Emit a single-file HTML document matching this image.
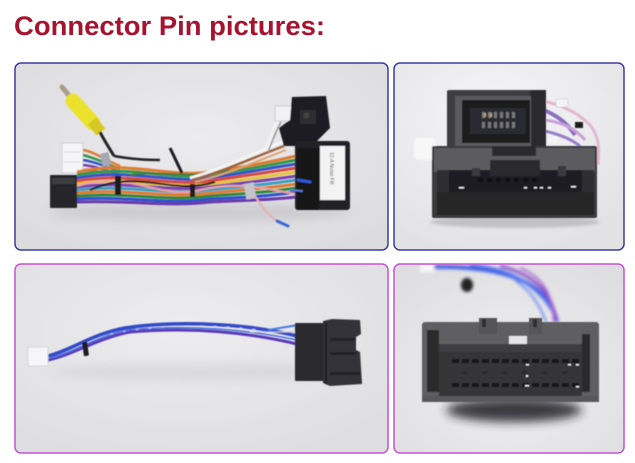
<!DOCTYPE html>
<html>
<head>
<meta charset="utf-8">
<style>
html,body{margin:0;padding:0;background:#fff;}
body{width:635px;height:463px;overflow:hidden;}
svg{display:block;}
</style>
</head>
<body>
<svg width="635" height="463" viewBox="0 0 635 463" xmlns="http://www.w3.org/2000/svg">
<defs>
  <clipPath id="cTL"><rect x="15" y="63" width="373" height="187" rx="6"/></clipPath>
  <clipPath id="cTR"><rect x="394" y="63" width="230" height="187" rx="6"/></clipPath>
  <clipPath id="cBL"><rect x="15" y="264" width="373" height="189" rx="6"/></clipPath>
  <clipPath id="cBR"><rect x="394" y="264" width="230" height="189" rx="6"/></clipPath>
  <radialGradient id="gTL" cx="50%" cy="40%" r="70%">
    <stop offset="0" stop-color="#ececee"/><stop offset="1" stop-color="#dcdcdf"/>
  </radialGradient>
  <radialGradient id="gTR" cx="45%" cy="30%" r="75%">
    <stop offset="0" stop-color="#f6f6f8"/><stop offset="1" stop-color="#e2e2e5"/>
  </radialGradient>
  <radialGradient id="gBL" cx="45%" cy="35%" r="75%">
    <stop offset="0" stop-color="#ededef"/><stop offset="1" stop-color="#dedee1"/>
  </radialGradient>
  <radialGradient id="gBR" cx="50%" cy="60%" r="75%">
    <stop offset="0" stop-color="#f0f0f2"/><stop offset="1" stop-color="#dddde0"/>
  </radialGradient>
  <filter id="b1" x="-20%" y="-20%" width="140%" height="140%"><feGaussianBlur stdDeviation="0.6"/></filter>
  <filter id="b2" x="-20%" y="-20%" width="140%" height="140%"><feGaussianBlur stdDeviation="1.5"/></filter>
  <filter id="b5" x="-30%" y="-100%" width="160%" height="300%"><feGaussianBlur stdDeviation="5"/></filter>
</defs>

<!-- Title -->
<text x="14" y="35" font-family="Liberation Sans, sans-serif" font-weight="bold" font-size="27" fill="#a5132f" textLength="311" lengthAdjust="spacingAndGlyphs">Connector Pin pictures:</text>

<!-- ============ TOP LEFT ============ -->
<g clip-path="url(#cTL)">
  <rect x="15" y="63" width="373" height="187" fill="url(#gTL)"/>
  <ellipse cx="200" cy="212" rx="150" ry="10" fill="#b8b8bd" opacity="0.5" filter="url(#b5)"/>
  <g filter="url(#b1)">
  <!-- RCA -->
  <line x1="62" y1="87" x2="71" y2="98" stroke="#a89f8a" stroke-width="5" stroke-linecap="round"/>
  <line x1="73" y1="101" x2="93" y2="123" stroke="#ece22e" stroke-width="15" stroke-linecap="round"/>
  <line x1="92" y1="121" x2="101" y2="132" stroke="#d6c820" stroke-width="11"/>
  <path d="M100,132 C104,140 108,146 114,156" stroke="#222" stroke-width="3" fill="none"/>
  <!-- white connector left -->
  <rect x="62" y="143" width="21" height="30" fill="#f6f6f8" stroke="#cfcfd4" stroke-width="1"/>
  <line x1="64" y1="152" x2="81" y2="152" stroke="#d8d8dc"/>
  <line x1="64" y1="162" x2="81" y2="162" stroke="#d8d8dc"/>
  <!-- wires from white connector -->
  <path d="M83,150 C95,152 105,160 120,166" stroke="#e07a30" stroke-width="2.5" fill="none"/>
  <path d="M83,155 C95,158 105,163 120,169" stroke="#2f9a4c" stroke-width="2.5" fill="none"/>
  <path d="M83,160 C95,162 105,166 120,172" stroke="#3452c8" stroke-width="2.5" fill="none"/>
  <path d="M83,165 C95,166 105,170 120,175" stroke="#7a40b0" stroke-width="2.5" fill="none"/>
  <path d="M83,170 C95,170 105,173 120,178" stroke="#d84a3c" stroke-width="2.5" fill="none"/>
  <path d="M114,156 C125,158 140,160 160,160" stroke="#222" stroke-width="2.5" fill="none"/>
  <!-- bundle -->
  <path d="M77,172 C130,160 170,178 210,172 C250,166 270,162 296,156" stroke="#e07a30" stroke-width="3" fill="none"/>
  <path d="M77,175 C130,164 170,181 210,175 C250,169 270,165 296,160" stroke="#2f9a4c" stroke-width="3" fill="none"/>
  <path d="M77,178 C130,168 170,184 210,178 C250,172 270,168 296,164" stroke="#3452c8" stroke-width="3" fill="none"/>
  <path d="M77,181 C130,172 170,187 210,181 C250,175 270,172 296,168" stroke="#d84a3c" stroke-width="3" fill="none"/>
  <path d="M77,184 C130,176 170,190 210,184 C250,179 270,176 296,172" stroke="#e6c33a" stroke-width="3" fill="none"/>
  <path d="M77,187 C130,180 170,193 210,187 C250,182 270,180 296,176" stroke="#7a40b0" stroke-width="3" fill="none"/>
  <path d="M77,190 C130,184 170,196 210,190 C250,186 270,184 296,180" stroke="#38a0c0" stroke-width="3" fill="none"/>
  <path d="M77,193 C130,188 170,199 210,193 C250,189 270,188 296,184" stroke="#e07a30" stroke-width="3" fill="none"/>
  <path d="M77,196 C130,192 170,202 210,196 C250,193 270,192 296,188" stroke="#2a8a3a" stroke-width="3" fill="none"/>
  <path d="M77,199 C130,196 170,205 210,199 C250,197 270,196 296,192" stroke="#3050d0" stroke-width="3" fill="none"/>
  <path d="M77,202 C130,200 170,207 210,202 C250,200 270,200 296,197" stroke="#6a3aa8" stroke-width="3" fill="none"/>
  <path d="M77,186 C130,170 160,200 200,190 C240,180 270,190 296,194" stroke="#f0a0a0" stroke-width="2" fill="none"/>
  <path d="M90,190 C140,168 170,196 215,182" stroke="#1f1f22" stroke-width="2" fill="none"/>
  <path d="M130,175 C160,170 190,180 230,170" stroke="#4a7a40" stroke-width="2" fill="none"/>
  <!-- upper crossing wires to right connectors -->
  <path d="M190,178 C220,170 250,155 282,142" stroke="#f4f4f4" stroke-width="3" fill="none"/>
  <path d="M192,180 C222,172 252,158 284,146" stroke="#a0623a" stroke-width="2.5" fill="none"/>
  <path d="M195,182 C225,175 255,162 286,150" stroke="#e0a070" stroke-width="2" fill="none"/>
  <path d="M266,150 C270,140 272,130 278,120" stroke="#f2f2f2" stroke-width="3" fill="none"/>
  <path d="M268,152 C272,142 275,133 281,122" stroke="#9a9aa0" stroke-width="1.5" fill="none"/>
  <path d="M170,148 C174,156 178,165 182,173" stroke="#1e1e22" stroke-width="3" fill="none"/>
  <!-- ties / labels -->
  <rect x="101" y="153" width="9" height="13" fill="#a8a8b0" transform="rotate(-15 105 159)"/>
  <rect x="115" y="176" width="6" height="19" fill="#1a1a1c"/>
  <rect x="190" y="184" width="5" height="13" fill="#1a1a1c"/>
  <rect x="245" y="183" width="10" height="16" fill="#c4c4cc" transform="rotate(-10 250 191)"/>
  <!-- pink wire down with blue tip -->
  <path d="M255,196 C262,208 270,216 278,222" stroke="#e8b0b0" stroke-width="2" fill="none"/>
  <path d="M277,221 L288,226" stroke="#3a6ad8" stroke-width="3" stroke-linecap="round"/>
  <!-- left black connector -->
  <rect x="50" y="175" width="27" height="33" fill="#28282c" rx="1"/>
  <rect x="52" y="178" width="23" height="6" fill="#3c3c40"/>
  <!-- upper right connector -->
  <rect x="275" y="106" width="17" height="15" fill="#f2f2f4" stroke="#c8c8cc" stroke-width="0.8"/>
  <polygon points="292,97 326,96 330,128 312,146 284,146 279,128 290,120" fill="#1f1f22"/>
  <rect x="300" y="110" width="16" height="14" fill="#2e2e32"/>
  <rect x="304" y="113" width="5" height="5" fill="#444"/>
  <!-- right box -->
  <rect x="295" y="141" width="55" height="69" rx="3" fill="#222225"/>
  <rect x="297" y="148" width="22" height="62" fill="#141416"/>
  <rect x="320" y="146" width="25" height="54" fill="#f3f3f3"/>
  <text x="0" y="0" font-family="Liberation Sans, sans-serif" font-size="5" fill="#555" transform="translate(330,152) rotate(90)">12-A  Noise  Filt</text>
  <!-- blue stubs -->
  <path d="M298,180 L310,182" stroke="#2f5ad8" stroke-width="3" stroke-linecap="round"/>
  <path d="M290,190 L302,191" stroke="#5a7ad8" stroke-width="2" stroke-linecap="round"/>
  </g>
</g>
<rect x="15" y="63" width="373" height="187" rx="6" fill="none" stroke="#3b3ba0" stroke-width="1.5"/>

<!-- ============ TOP RIGHT ============ -->
<g clip-path="url(#cTR)">
  <rect x="394" y="63" width="230" height="187" fill="url(#gTR)"/>
  <ellipse cx="515" cy="222" rx="85" ry="6" fill="#a8a8ae" opacity="0.6" filter="url(#b2)"/>
  <g filter="url(#b1)">
  <!-- wires right -->
  <path d="M540,100 C560,105 575,110 590,125 C598,135 600,145 598,165" stroke="#e2b8d0" stroke-width="3" fill="none"/>
  <path d="M540,108 C555,115 565,120 575,135" stroke="#8a70c0" stroke-width="4" fill="none"/>
  <path d="M545,120 C560,122 575,128 585,140" stroke="#c8a0d8" stroke-width="3" fill="none"/>
  <path d="M540,130 C555,133 570,138 580,146" stroke="#9a80c8" stroke-width="3" fill="none"/>
  <rect x="575" y="122" width="8" height="6" fill="#1c1c1e"/>
  <rect x="556" y="99" width="12" height="8" fill="#f4f4f4" stroke="#ccc" stroke-width="0.6"/>
  <rect x="548" y="137" width="10" height="6" fill="#f4f4f4"/>
  <!-- white left blob -->
  <rect x="414" y="138" width="22" height="22" rx="4" fill="#f7f7f8"/>
  <!-- upper connector -->
  <rect x="447" y="90" width="99" height="61" rx="2" fill="#3e3e42"/>
  <rect x="530" y="90" width="16" height="61" fill="#2a2a2e"/>
  <rect x="455" y="96" width="76" height="50" fill="#5a5a5e"/>
  <rect x="462" y="100" width="68" height="43" fill="#1c1c1e"/>
  <rect x="470" y="108" width="56" height="26" fill="#2c2c30"/>
  <g fill="#77777c">
    <rect x="482" y="112" width="3" height="6"/><rect x="488" y="112" width="3" height="6"/>
    <rect x="494" y="112" width="3" height="6"/><rect x="500" y="112" width="3" height="6"/>
    <rect x="506" y="112" width="3" height="6"/><rect x="512" y="112" width="3" height="6"/>
    <rect x="482" y="122" width="3" height="6"/><rect x="488" y="122" width="3" height="6"/>
    <rect x="494" y="122" width="3" height="6"/><rect x="500" y="122" width="3" height="6"/>
    <rect x="506" y="122" width="3" height="6"/><rect x="512" y="122" width="3" height="6"/>
  </g>
  <rect x="484" y="113" width="2" height="4" fill="#b8a870"/>
  <rect x="490" y="113" width="2" height="4" fill="#b8a870"/>
  <!-- lower connector -->
  <rect x="432" y="146" width="165" height="72" rx="2" fill="#3a3a3e"/>
  <rect x="434" y="148" width="161" height="24" fill="#5c5c60"/>
  <rect x="492" y="146" width="44" height="10" fill="#2a2a2e"/>
  <rect x="437" y="170" width="157" height="45" fill="#1e1e20"/>
  <rect x="437" y="170" width="12" height="45" fill="#2e2e32"/>
  <rect x="582" y="170" width="12" height="45" fill="#2e2e32"/>
  <rect x="472" y="168" width="8" height="8" fill="#3a3a3e"/>
  <rect x="558" y="166" width="8" height="10" fill="#3a3a3e"/>
  <rect x="490" y="160" width="50" height="16" fill="#2a2a2e"/>
  <g fill="#101012">
    <rect x="478" y="178" width="5" height="4"/><rect x="487" y="178" width="5" height="4"/>
    <rect x="496" y="178" width="5" height="4"/><rect x="505" y="178" width="5" height="4"/>
    <rect x="514" y="178" width="5" height="4"/><rect x="523" y="178" width="5" height="4"/>
    <rect x="532" y="178" width="5" height="4"/>
  </g>
  <g fill="#e8e8ea">
    <rect x="459" y="187" width="5" height="1.5"/><rect x="524" y="187" width="3" height="1.5"/>
    <rect x="534" y="187" width="3" height="1.5"/><rect x="540" y="187" width="3" height="1.5"/>
    <rect x="548" y="187" width="3" height="1.5"/><rect x="571" y="186" width="5" height="1.5"/>
  </g>
  <rect x="437" y="192" width="157" height="23" fill="#262628"/>
  </g>
</g>
<rect x="394" y="63" width="230" height="187" rx="6" fill="none" stroke="#3b3ba0" stroke-width="1.5"/>

<!-- ============ BOTTOM LEFT ============ -->
<g clip-path="url(#cBL)">
  <rect x="15" y="264" width="373" height="189" fill="url(#gBL)"/>
  <ellipse cx="200" cy="372" rx="150" ry="8" fill="#c4c4c8" opacity="0.4" filter="url(#b5)"/>
  <g filter="url(#b1)">
  <path d="M48,356 C72,350 92,334 125,328 C180,320 250,324 297,336" stroke="#3048c8" stroke-width="3.5" fill="none"/>
  <path d="M48,360 C75,354 98,338 130,332 C200,326 255,334 297,344" stroke="#5a3ab8" stroke-width="3" fill="none"/>
  <path d="M50,358 C76,352 96,336 128,330 C190,324 250,330 297,340" stroke="#4a70e0" stroke-width="1.5" fill="none"/>
  <path d="M110,334 C160,324 210,324 260,330" stroke="#b8c8f8" stroke-width="1" stroke-dasharray="3 10" fill="none"/>
  <path d="M268,330 L298,325" stroke="#4a7ae8" stroke-width="2" fill="none"/>
  <path d="M250,332 L298,332" stroke="#c8c8d0" stroke-width="1" fill="none"/>
  <rect x="83" y="342" width="5" height="14" rx="1" fill="#1a1a1c" transform="rotate(-8 85 349)"/>
  <!-- white connector -->
  <rect x="28" y="347" width="20" height="19" rx="1" fill="#f6f6f8" stroke="#cfcfd4" stroke-width="0.8"/>
  <!-- black connector -->
  <rect x="295" y="323" width="32" height="58" rx="1" fill="#2a2a2e"/>
  <polygon points="323,321 332,319 360,320 361,334 356,337 356,350 360,352 362,384 330,386 323,383" fill="#333337"/>
  <line x1="326" y1="322" x2="326" y2="384" stroke="#1a1a1c" stroke-width="1.5"/>
  <rect x="330" y="338" width="26" height="3" fill="#232326"/>
  <rect x="330" y="352" width="26" height="3" fill="#232326"/>
  <rect x="330" y="372" width="30" height="3" fill="#232326"/>
  </g>
</g>
<rect x="15" y="264" width="373" height="189" rx="6" fill="none" stroke="#c652d4" stroke-width="1.5"/>

<!-- ============ BOTTOM RIGHT ============ -->
<g clip-path="url(#cBR)">
  <rect x="394" y="264" width="230" height="189" fill="url(#gBR)"/>
  <ellipse cx="514" cy="410" rx="68" ry="12" fill="#1e1e20" opacity="0.85" filter="url(#b5)"/>
  <!-- wires -->
  <g filter="url(#b2)">
  <path d="M430,267 C470,266 515,270 540,292 C550,302 555,312 557,322" stroke="#3a5ae0" stroke-width="4" fill="none"/>
  <path d="M470,265 C505,268 525,278 545,300 C552,310 556,315 558,322" stroke="#5a78f0" stroke-width="3" fill="none"/>
  <path d="M500,266 C525,272 545,285 552,305 C555,313 556,318 556,322" stroke="#8a50c8" stroke-width="3" fill="none"/>
  <path d="M520,268 C540,276 552,290 554,322" stroke="#a060d0" stroke-width="2" fill="none"/>
  <path d="M515,280 C530,290 540,305 546,322" stroke="#6a8af0" stroke-width="2" fill="none"/>
  <ellipse cx="467" cy="285" rx="6" ry="7" fill="#222"/>
  <rect x="420" y="264" width="14" height="8" fill="#f8f8f8"/>
  </g>
  <g filter="url(#b1)">
  <!-- connector body -->
  <rect x="422" y="322" width="177" height="80" rx="3" fill="#5e5e62"/>
  <rect x="479" y="318" width="18" height="16" fill="#545458"/>
  <rect x="529" y="318" width="13" height="16" fill="#545458"/>
  <rect x="482" y="319" width="4" height="8" fill="#2e2e32"/>
  <rect x="533" y="319" width="4" height="8" fill="#2e2e32"/>
  <rect x="509" y="336" width="18" height="10" fill="#e4e4e6"/>
  <rect x="427" y="330" width="12" height="62" fill="#2a2a2c"/>
  <rect x="582" y="334" width="8" height="58" fill="#2a2a2c"/>
  <rect x="439" y="344" width="143" height="52" fill="#343438"/>
  <rect x="439" y="344" width="143" height="8" fill="#3e3e42"/>
  <g fill="#141416">
    <rect x="452" y="359" width="7" height="4"/><rect x="462" y="359" width="7" height="4"/>
    <rect x="472" y="359" width="7" height="4"/><rect x="482" y="359" width="7" height="4"/>
    <rect x="492" y="359" width="7" height="4"/><rect x="502" y="359" width="7" height="4"/>
    <rect x="512" y="359" width="7" height="4"/><rect x="522" y="359" width="7" height="4"/>
    <rect x="532" y="359" width="7" height="4"/><rect x="542" y="359" width="7" height="4"/>
    <rect x="552" y="359" width="7" height="4"/><rect x="562" y="359" width="7" height="4"/>
    <rect x="572" y="359" width="7" height="4"/>
    <rect x="452" y="383" width="7" height="4"/><rect x="462" y="383" width="7" height="4"/>
    <rect x="472" y="383" width="7" height="4"/><rect x="482" y="383" width="7" height="4"/>
    <rect x="492" y="383" width="7" height="4"/><rect x="502" y="383" width="7" height="4"/>
    <rect x="512" y="383" width="7" height="4"/><rect x="522" y="383" width="7" height="4"/>
    <rect x="532" y="383" width="7" height="4"/><rect x="542" y="383" width="7" height="4"/>
    <rect x="552" y="383" width="7" height="4"/><rect x="562" y="383" width="7" height="4"/>
    <rect x="572" y="383" width="7" height="4"/>
  </g>
  <g fill="#2a2a2e">
    <rect x="462" y="371" width="5" height="3"/><rect x="482" y="371" width="5" height="3"/>
    <rect x="502" y="371" width="5" height="3"/><rect x="522" y="371" width="5" height="3"/>
    <rect x="542" y="371" width="5" height="3"/><rect x="562" y="371" width="5" height="3"/>
  </g>
  <g fill="#e8e8ea">
    <rect x="526" y="364" width="3" height="1.5"/><rect x="568" y="364" width="3" height="1.5"/>
    <rect x="576" y="364" width="3" height="1.5"/><rect x="525" y="385" width="4" height="1.5"/>
    <rect x="576" y="386" width="3" height="1.5"/><rect x="526" y="375" width="2" height="2"/>
  </g>
  <rect x="422" y="396" width="177" height="6" fill="#58585c"/>
  </g>
</g>
<rect x="394" y="264" width="230" height="189" rx="6" fill="none" stroke="#c652d4" stroke-width="1.5"/>
</svg>
</body>
</html>
